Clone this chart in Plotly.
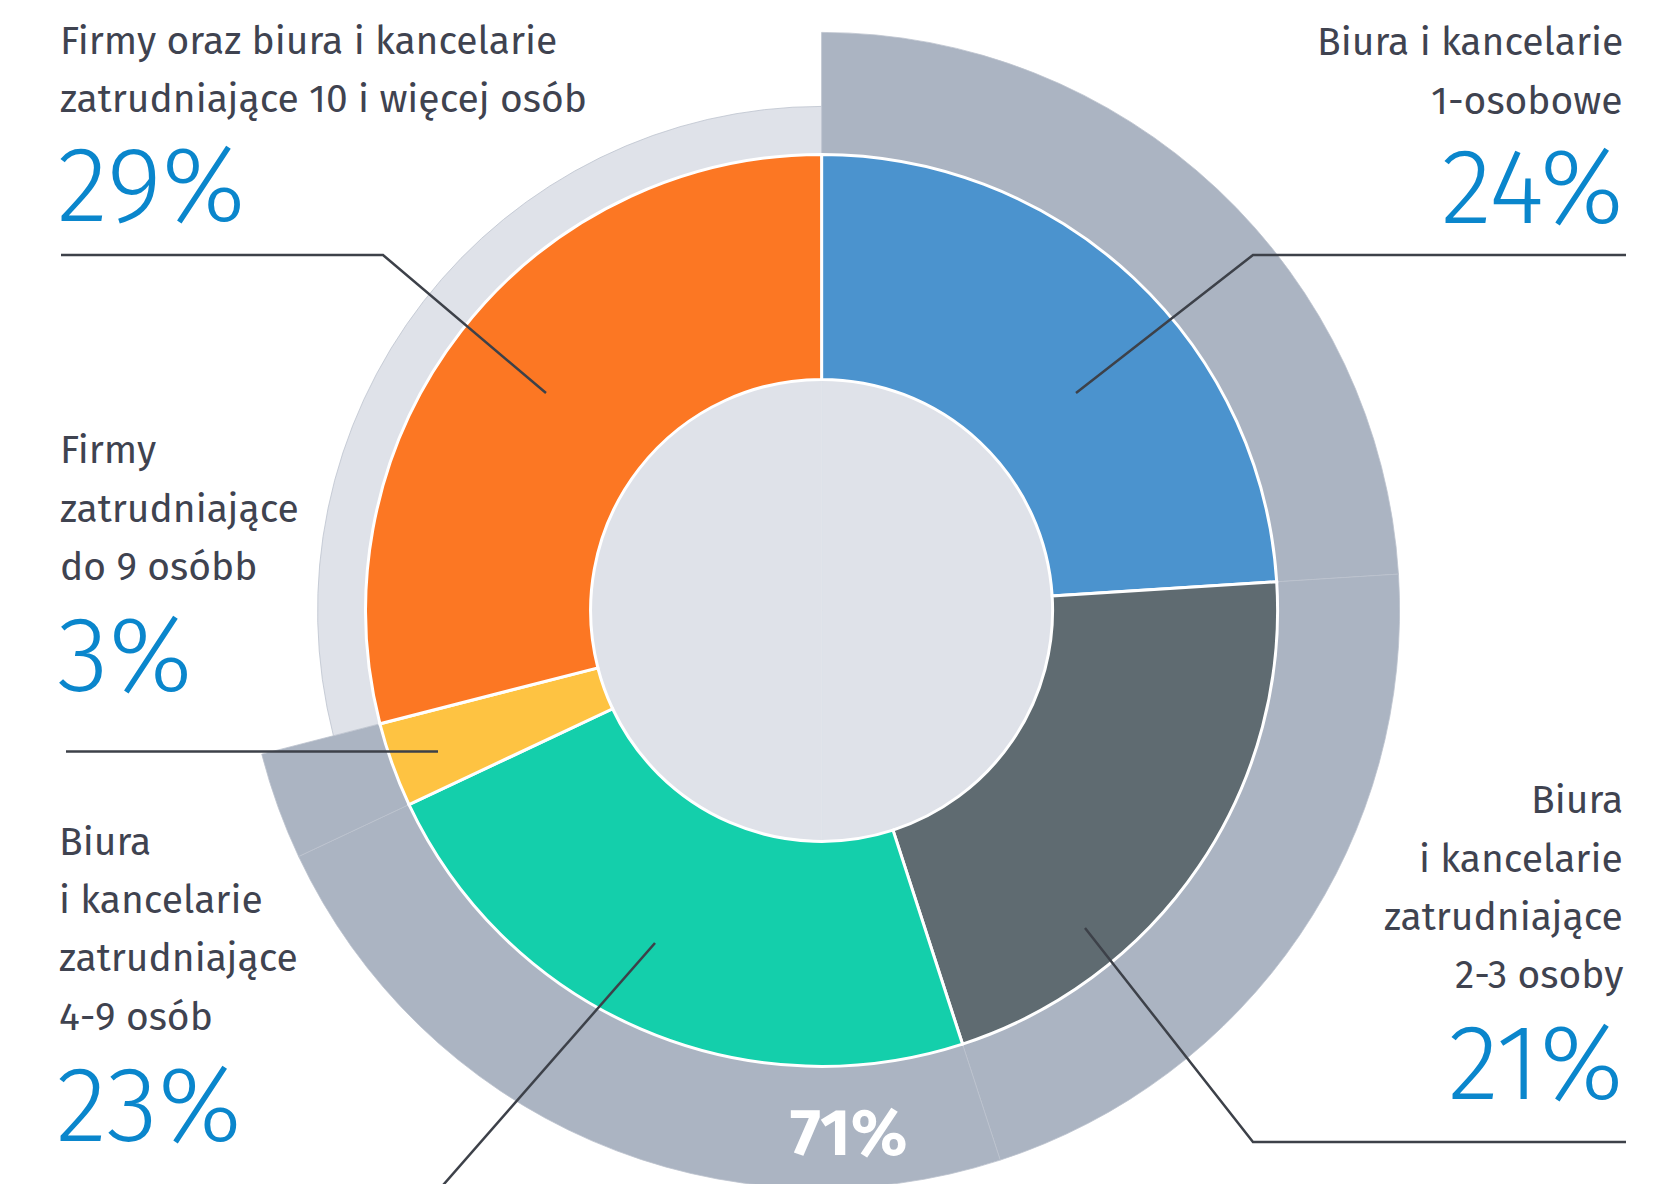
import plotly.graph_objects as go

# ---------------- data ----------------
categories = [
    "Biura i kancelarie 1-osobowe",
    "Biura i kancelarie zatrudniające 2-3 osoby",
    "Biura i kancelarie zatrudniające 4-9 osób",
    "Firmy zatrudniające do 9 osóbb",
    "Firmy oraz biura i kancelarie zatrudniające 10 i więcej osób",
]
shares = [24, 21, 23, 3, 29]
in_group = [True, True, True, True, False]   # segments making up the outer 71% group
group_label = "71%"

label_lines = [
    ["Biura i kancelarie", "1-osobowe"],
    ["Biura", "i kancelarie", "zatrudniające", "2-3 osoby"],
    ["Biura", "i kancelarie", "zatrudniające", "4-9 osób"],
    ["Firmy", "zatrudniające", "do 9 osóbb"],
    ["Firmy oraz biura i kancelarie", "zatrudniające 10 i więcej osób"],
]

# ---------------- style ----------------
W, H = 1676, 1184
OFF = 8                        # page body margin compensation
CX, CY = 821.6, 610.4          # pie centre in page pixels
R = 580.0                      # radial range shown by the polar domain
HOLE_R, DONUT_R = 231, 456
OUTER_BASE = 440
OUTER_R_GROUP, OUTER_R_REST = 578, 504

inner_colors = ["#4b93ce", "#5f6b71", "#14cfab", "#fec342", "#fc7723"]
outer_group_color = "#abb4c2"
outer_rest_color = "#dfe2e9"
hole_color = "#dfe2e9"
text_color = "#3f4350"
pct_color = "#0a86cc"
line_color = "#3d4149"

LABEL_FONT = "Fira Sans, Open Sans, sans-serif"
LABEL_SIZE = 39
PCT_SIZE = 106
GROUP_SIZE = 66
LINE_GAP = 58.3
TEXT_DY = 4

# text block placement: (anchor x px, first baseline px, align, pct baseline px)
blocks = [
    (1625, 53.5, "right", 225),
    (1625, 811.5, "right", 1100.5),
    (57, 853, "left", 1143),
    (58, 461.5, "left", 692.5),
    (58, 52, "left", 223),
]

# leader lines in page pixels
leaders = [
    [(1626, 255), (1253, 255), (1076, 393)],
    [(1626, 1142), (1253, 1142), (1085, 928)],
    [(655, 943), (437, 1192)],
    [(66, 751.5), (438, 751.5)],
    [(61, 255), (383, 255), (546, 393)],
]

# ---------------- geometry from data ----------------
starts = []
acc = 0
for v in shares:
    starts.append(acc)
    acc += v
total = float(acc)
theta_mid = [(s + v / 2) / total * 360 for s, v in zip(starts, shares)]
widths = [v / total * 360 for v in shares]

fig = go.Figure()

# central filled hole
fig.add_trace(go.Barpolar(
    theta=[90, 270], width=[180, 180], base=[0, 0], r=[HOLE_R, HOLE_R],
    marker=dict(color=hole_color, line=dict(color=hole_color, width=0.5)),
    hoverinfo="skip", showlegend=False,
))

# outer ring
outer_r = [OUTER_R_GROUP if g else OUTER_R_REST for g in in_group]
outer_c = [outer_group_color if g else outer_rest_color for g in in_group]
fig.add_trace(go.Barpolar(
    theta=theta_mid, width=widths,
    base=[OUTER_BASE] * len(shares),
    r=[o - OUTER_BASE for o in outer_r],
    marker=dict(color=outer_c, line=dict(color="#bcc3ce", width=0.8)),
    hoverinfo="skip", showlegend=False,
))

# inner donut
fig.add_trace(go.Barpolar(
    theta=theta_mid, width=widths,
    base=[HOLE_R] * len(shares),
    r=[DONUT_R - HOLE_R] * len(shares),
    marker=dict(color=inner_colors, line=dict(color="white", width=3)),
    text=categories, hoverinfo="text", showlegend=False,
))

# invisible helper so bars are not clipped by the polar frame
fig.add_trace(go.Scatterpolar(
    r=[0], theta=[0], mode="markers", marker=dict(size=1, opacity=0),
    cliponaxis=False, hoverinfo="skip", showlegend=False,
))


def px(x):
    return (x - OFF) / W


def py(y):
    return 1 - (y - OFF) / H


# ---------------- layout ----------------
x0 = px(CX - R)
x1 = px(CX + R)
y0 = py(CY + R)
y1 = py(CY - R)

fig.update_layout(
    width=W, height=H,
    margin=dict(l=0, r=0, t=0, b=0),
    paper_bgcolor="white",
    plot_bgcolor="white",
    showlegend=False,
    polar=dict(
        domain=dict(x=[x0, x1], y=[max(0, y0), min(1, y1)]),
        bgcolor="rgba(0,0,0,0)",
        hole=0,
        radialaxis=dict(range=[0, R], visible=False, showgrid=False),
        angularaxis=dict(direction="clockwise", rotation=90, visible=False,
                         showgrid=False, thetaunit="degrees"),
        bargap=0,
    ),
)

annotations = []
for (ax, b0, align, pb), lines, v in zip(blocks, label_lines, shares):
    for i, t in enumerate(lines):
        base = b0 + i * LINE_GAP + TEXT_DY
        annotations.append(dict(
            text=t, xref="paper", yref="paper", x=px(ax), y=py(base - 0.388 * LABEL_SIZE),
            xanchor=align, yanchor="middle", showarrow=False, align=align,
            font=dict(family=LABEL_FONT, size=LABEL_SIZE, color=text_color),
        ))
    annotations.append(dict(
        text=f"{v}%", xref="paper", yref="paper", x=px(ax - (3 if align == "left" else -1)),
        y=py(pb + TEXT_DY - 0.388 * PCT_SIZE),
        xanchor=align, yanchor="middle", showarrow=False, align=align,
        font=dict(family=LABEL_FONT, size=PCT_SIZE, color=pct_color, weight=300),
    ))

annotations.append(dict(
    text=f"<b>{group_label}</b>", xref="paper", yref="paper",
    x=px(848), y=py(1158 - 0.388 * GROUP_SIZE), xanchor="center", yanchor="middle",
    showarrow=False, font=dict(family=LABEL_FONT, size=GROUP_SIZE, color="white"),
))
fig.update_layout(annotations=annotations)

shapes = []
for pts in leaders:
    path = "M " + " L ".join(f"{px(x)},{py(y)}" for x, y in pts)
    shapes.append(dict(type="path", xref="paper", yref="paper", path=path,
                       line=dict(color=line_color, width=2.5)))
fig.update_layout(shapes=shapes)

fig.write_html("out.html")
